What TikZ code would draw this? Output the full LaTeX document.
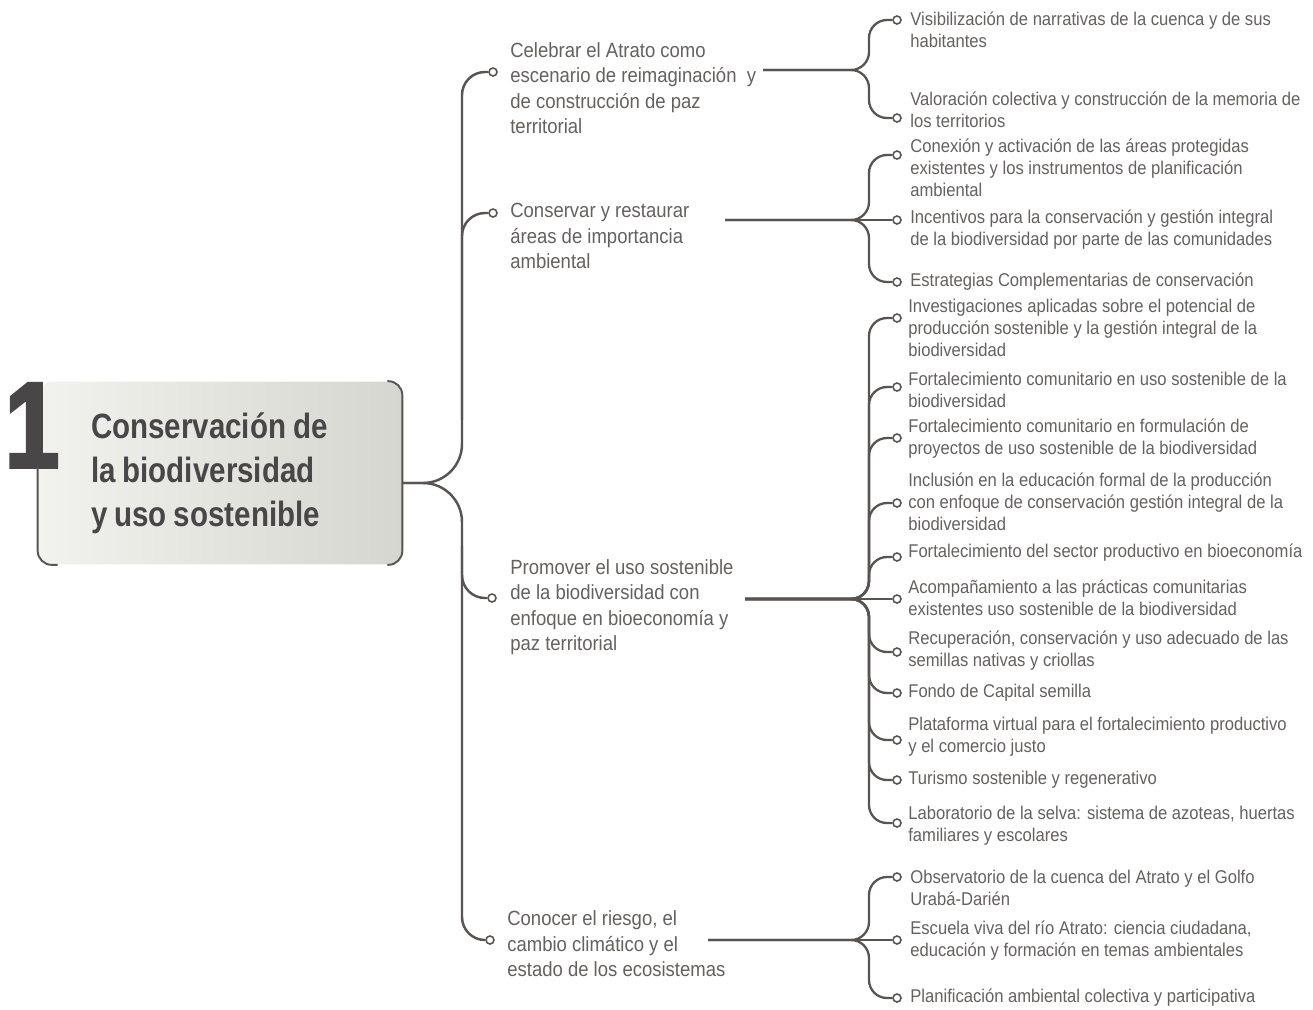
\documentclass[tikz,border=0pt]{standalone}
\usepackage{fontspec}
\newfontfamily\condsans[FakeStretch=0.9]{Liberation Sans}
\newfontfamily\headfont[FakeStretch=0.84]{Liberation Sans}
\newfontfamily\numfont[FakeStretch=0.8, FakeBold=3]{Liberation Sans}
\newcommand\tightspace{\spaceskip=0.2em\relax}
\definecolor{linecol}{RGB}{88,84,82}
\definecolor{textgray}{RGB}{100,97,95}
\definecolor{headgray}{RGB}{72,70,70}
\definecolor{boxleft}{RGB}{242,242,238}
\definecolor{boxright}{RGB}{214,214,208}
\begin{document}
\begin{tikzpicture}[
    x=0.02cm, y=-0.02cm,
    every node/.style={inner sep=0pt},
    mainbox/.style={rectangle, rounded corners=0.3cm, left color=boxleft, right color=boxright, minimum width=7.28cm, minimum height=3.66cm, text width=5.16cm, align=left, font=\headfont\bfseries\fontsize{20}{25}\selectfont, text=headgray},
    bignum/.style={font=\numfont\bfseries\fontsize{69}{69}\selectfont, text=headgray, anchor=base},
    boxedge/.style={draw=linecol, line width=1.1pt, rounded corners=0.28cm},
    mid/.style={anchor=west, align=left, font=\condsans\fontsize{11.7}{14.5}\selectfont, text=textgray},
    leaf/.style={anchor=west, align=left, font=\condsans\fontsize{10.5}{12.5}\selectfont, text=textgray},
    knob/.style={circle, draw=linecol, fill=white, line width=0.9pt, minimum size=0.16cm},
    hubline/.style={draw=linecol, line width=1.4pt, rounded corners=0.78cm},
    trunk/.style={draw=linecol, line width=1.4pt, rounded corners=0.46cm},
    twig/.style={draw=linecol, line width=1.3pt, rounded corners=0.36cm}
]
\path[use as bounding box, fill=white] (0,0) rectangle (1313,1009);

% -------------------------
% Main box
% -------------------------
    \node[mainbox] (main) at (220,473) {\tightspace Conservación de\\la biodiversidad\\y uso sostenible};
    \draw[boxedge] ([xshift=-0.3cm]main.north east) -- (main.north east) -- (main.south east) -- ([xshift=-0.3cm]main.south east);
    \node[bignum] (num) at (32,467) {1};
    \draw[boxedge] (num.south -| main.west) -- (main.south west) -- ([xshift=0.4cm]main.south west);

% -------------------------
% Middle column
% -------------------------
    \node[mid] (m1) at (510,88) {Celebrar el Atrato como\\escenario de reimaginación~ y\\de construcción de paz\\territorial};
    \node[mid] (m2) at (510,236) {Conservar y restaurar\\áreas de importancia\\ambiental};
    \node[mid] (m3) at (510,607) {Promover el uso sostenible\\de la biodiversidad con\\enfoque en bioeconomía y\\paz territorial};
    \node[mid] (m4) at (507,944) {Conocer el riesgo, el\\cambio climático y el\\estado de los ecosistemas};

    \node[knob] (m1dot) at (493,72) {};
    \node[knob] (m2dot) at (493,213) {};
    \node[knob] (m3dot) at (492,598) {};
    \node[knob] (m4dot) at (490,940) {};

% -------------------------
% Right column
% -------------------------
    \node[leaf] (v1) at (910,30) {Visibilización de narrativas de la cuenca y de sus\\habitantes};
    \node[leaf] (v2) at (910,110) {Valoración colectiva y construcción de la memoria de\\los territorios};

    \node[leaf] (c1) at (910,168) {Conexión y activación de las áreas protegidas\\existentes y los instrumentos de planificación\\ambiental};
    \node[leaf] (c2) at (910,230) {Incentivos para la conservación y gestión integral\\de la biodiversidad por parte de las comunidades};
    \node[leaf] (c3) at (910,282) {Estrategias Complementarias de conservación};

    \node[leaf] (p1) at (908,328) {Investigaciones aplicadas sobre el potencial de\\producción sostenible y la gestión integral de la\\biodiversidad};
    \node[leaf] (p2) at (908,390) {Fortalecimiento comunitario en uso sostenible de la\\biodiversidad};
    \node[leaf] (p3) at (908,439) {Fortalecimiento comunitario en formulación de\\proyectos de uso sostenible de la biodiversidad};
    \node[leaf] (p4) at (908,502) {Inclusión en la educación formal de la producción\\con enfoque de conservación gestión integral de la\\biodiversidad};
    \node[leaf] (p5) at (908,553) {Fortalecimiento del sector productivo en bioeconomía};
    \node[leaf] (p6) at (908,598) {Acompañamiento a las prácticas comunitarias\\existentes uso sostenible de la biodiversidad};
    \node[leaf] (p7) at (908,651) {Recuperación, conservación y uso adecuado de las\\semillas nativas y criollas};
    \node[leaf] (p8) at (908,693) {Fondo de Capital semilla};
    \node[leaf] (p9) at (908,737) {Plataforma virtual para el fortalecimiento productivo\\y el comercio justo};
    \node[leaf] (p10) at (908,780) {Turismo sostenible y regenerativo};
    \node[leaf] (p11) at (908,826) {Laboratorio de la selva: sistema de azoteas, huertas\\familiares y escolares};

    \node[leaf] (k1) at (910,888) {Observatorio de la cuenca del Atrato y el Golfo\\Urabá-Darién};
    \node[leaf] (k2) at (910,941) {Escuela viva del río Atrato: ciencia ciudadana,\\educación y formación en temas ambientales};
    \node[leaf] (k3) at (910,998) {Planificación ambiental colectiva y participativa};

    \node[knob] (v1dot) at (897,20) {};
    \node[knob] (v2dot) at (897,118) {};
    \node[knob] (c1dot) at (897,155) {};
    \node[knob] (c2dot) at (897,220) {};
    \node[knob] (c3dot) at (897,282) {};
    \node[knob] (p1dot) at (897,318) {};
    \node[knob] (p2dot) at (897,387) {};
    \node[knob] (p3dot) at (897,438) {};
    \node[knob] (p4dot) at (897,503) {};
    \node[knob] (p5dot) at (897,557) {};
    \node[knob] (p6dot) at (897,599) {};
    \node[knob] (p7dot) at (897,652) {};
    \node[knob] (p8dot) at (897,693) {};
    \node[knob] (p9dot) at (897,740) {};
    \node[knob] (p10dot) at (897,780) {};
    \node[knob] (p11dot) at (897,823) {};
    \node[knob] (k1dot) at (897,877) {};
    \node[knob] (k2dot) at (897,940) {};
    \node[knob] (k3dot) at (897,998) {};

% -------------------------
% Trunk from the main box
% -------------------------
    \coordinate (mainhub) at (462,483);
    \coordinate (trunkU) at (462,420);
    \coordinate (trunkD) at (462,546);
    \draw[hubline] (main.east |- mainhub) -- (mainhub) -- (trunkU);
    \draw[hubline] (main.east |- mainhub) -- (mainhub) -- (trunkD);
    \draw[trunk] (trunkU) -- (trunkU |- m1dot) -- (m1dot.west);
    \draw[trunk] (trunkU) -- (trunkU |- m2dot) -- (m2dot.west);
    \draw[trunk] (trunkD) -- (trunkD |- m3dot) -- (m3dot.west);
    \draw[trunk] (trunkD) -- (trunkD |- m4dot) -- (m4dot.west);

% -------------------------
% Branches to the right column
% -------------------------
    \coordinate (s1) at (763,70);  \coordinate (h1) at (869,70);
    \coordinate (s2) at (725,220); \coordinate (h2) at (869,220);
    \coordinate (s3) at (745,599); \coordinate (h3) at (869,599);
    \coordinate (s4) at (708,940); \coordinate (h4) at (869,940);

    \draw[twig] (s1) -- (h1) -- (h1 |- v1dot) -- (v1dot.west);
    \draw[twig] (s1) -- (h1) -- (h1 |- v2dot) -- (v2dot.west);

    \draw[twig] (s2) -- (h2) -- (h2 |- c1dot) -- (c1dot.west);
    \draw[twig] (s2) -- (c2dot.west);
    \draw[twig] (s2) -- (h2) -- (h2 |- c3dot) -- (c3dot.west);

    \draw[twig] (s3) -- (h3) -- (h3 |- p1dot) -- (p1dot.west);
    \draw[twig] (s3) -- (h3) -- (h3 |- p2dot) -- (p2dot.west);
    \draw[twig] (s3) -- (h3) -- (h3 |- p3dot) -- (p3dot.west);
    \draw[twig] (s3) -- (h3) -- (h3 |- p4dot) -- (p4dot.west);
    \draw[twig] (s3) -- (h3) -- (h3 |- p5dot) -- (p5dot.west);
    \draw[twig] (s3) -- (p6dot.west);
    \draw[twig] (s3) -- (h3) -- (h3 |- p7dot) -- (p7dot.west);
    \draw[twig] (s3) -- (h3) -- (h3 |- p8dot) -- (p8dot.west);
    \draw[twig] (s3) -- (h3) -- (h3 |- p9dot) -- (p9dot.west);
    \draw[twig] (s3) -- (h3) -- (h3 |- p10dot) -- (p10dot.west);
    \draw[twig] (s3) -- (h3) -- (h3 |- p11dot) -- (p11dot.west);

    \draw[twig] (s4) -- (h4) -- (h4 |- k1dot) -- (k1dot.west);
    \draw[twig] (s4) -- (k2dot.west);
    \draw[twig] (s4) -- (h4) -- (h4 |- k3dot) -- (k3dot.west);
\end{tikzpicture}
\end{document}
